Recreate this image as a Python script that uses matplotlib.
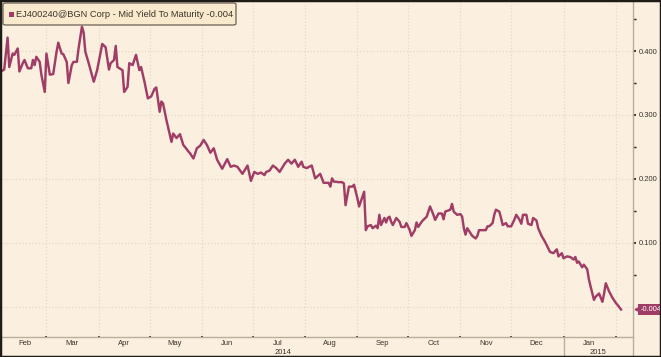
import pandas as pd
import numpy as np
import matplotlib.pyplot as plt
import matplotlib.dates as mdates
import matplotlib.transforms as mtransforms
from matplotlib.patches import FancyBboxPatch, Rectangle
from matplotlib.ticker import FixedLocator, NullFormatter
from matplotlib import font_manager

# condensed-ish font if there is one
names = {f.name for f in font_manager.fontManager.ttflist}
narrow = 'Liberation Sans Narrow' if 'Liberation Sans Narrow' in names else 'Liberation Sans'
plt.rcParams['font.family'] = [narrow, 'DejaVu Sans']

# ============================================================
# data: days after 2014-02-01, mid yield to maturity
# ============================================================
series_name = 'EJ400240@BGN Corp - Mid Yield To Maturity -0.004'
start_date = '2014-02-01'
day_offset = [
    1, 3, 5, 6, 8, 9, 11, 12, 14, 15, 17, 19, 20, 21, 22, 24, 25, 27, 28, 30,
    32, 34, 35, 37, 38, 40, 41, 43, 44, 46, 47, 49, 50, 51, 53, 56, 58, 61, 63, 65,
    66, 68, 69, 70, 73, 74, 76, 77, 79, 81, 83, 84, 86, 88, 90, 92, 93, 95, 96, 97,
    99, 102, 103, 105, 107, 109, 110, 112, 113, 115, 117, 119, 121, 123, 125, 127, 129, 132, 135, 137,
    139, 141, 144, 147, 149, 151, 153, 155, 157, 158, 160, 162, 164, 166, 169, 171, 173, 175, 177, 179,
    180, 182, 185, 187, 190, 192, 195, 196, 197, 198, 201, 203, 204, 205, 207, 209, 210, 212, 213, 215,
    216, 217, 218, 220, 221, 223, 224, 225, 226, 228, 229, 230, 231, 232, 233, 235, 237, 238, 240, 241,
    243, 244, 246, 247, 248, 250, 251, 253, 255, 257, 258, 260, 262, 263, 264, 265, 267, 268, 269, 271,
    273, 274, 275, 276, 277, 279, 280, 282, 283, 284, 286, 288, 289, 290, 292, 293, 294, 296, 297, 298,
    300, 301, 303, 305, 306, 308, 309, 310, 312, 313, 315, 316, 318, 319, 321, 323, 326, 328, 330, 331,
    333, 334, 336, 338, 340, 341, 342, 343, 345, 346, 348, 349, 350, 352, 353, 355, 357, 358, 359, 361,
    363, 365, 366, 368,
]
yield_vals = [
    0.368, 0.371, 0.421, 0.375, 0.396, 0.394, 0.404, 0.368, 0.381, 0.386, 0.373, 0.373, 0.386, 0.378, 0.391, 0.383, 0.363, 0.336, 0.396, 0.363,
    0.364, 0.399, 0.413, 0.396, 0.395, 0.383, 0.350, 0.378, 0.383, 0.383, 0.404, 0.438, 0.429, 0.399, 0.381, 0.352, 0.370, 0.411, 0.406, 0.371,
    0.381, 0.386, 0.408, 0.375, 0.370, 0.336, 0.344, 0.381, 0.378, 0.394, 0.370, 0.375, 0.352, 0.326, 0.329, 0.341, 0.343, 0.305, 0.321, 0.318,
    0.292, 0.258, 0.271, 0.264, 0.270, 0.253, 0.250, 0.243, 0.240, 0.232, 0.248, 0.252, 0.261, 0.253, 0.241, 0.248, 0.230, 0.216, 0.231, 0.219,
    0.221, 0.219, 0.208, 0.221, 0.197, 0.211, 0.208, 0.210, 0.206, 0.211, 0.213, 0.221, 0.217, 0.211, 0.224, 0.230, 0.224, 0.230, 0.219, 0.227,
    0.219, 0.217, 0.221, 0.201, 0.208, 0.194, 0.194, 0.188, 0.201, 0.196, 0.195, 0.195, 0.193, 0.159, 0.188, 0.188, 0.191, 0.170, 0.157, 0.172,
    0.180, 0.120, 0.126, 0.128, 0.123, 0.127, 0.123, 0.144, 0.128, 0.139, 0.132, 0.139, 0.141, 0.133, 0.128, 0.139, 0.133, 0.125, 0.125, 0.131,
    0.120, 0.111, 0.120, 0.132, 0.125, 0.133, 0.136, 0.141, 0.157, 0.144, 0.136, 0.146, 0.146, 0.137, 0.149, 0.150, 0.152, 0.161, 0.149, 0.144,
    0.145, 0.141, 0.123, 0.113, 0.123, 0.115, 0.111, 0.107, 0.111, 0.120, 0.120, 0.120, 0.126, 0.126, 0.131, 0.144, 0.152, 0.149, 0.139, 0.128,
    0.131, 0.126, 0.126, 0.137, 0.144, 0.136, 0.130, 0.144, 0.144, 0.130, 0.128, 0.139, 0.135, 0.123, 0.111, 0.102, 0.086, 0.084, 0.090, 0.079,
    0.084, 0.076, 0.079, 0.078, 0.074, 0.078, 0.069, 0.071, 0.062, 0.066, 0.059, 0.043, 0.032, 0.011, 0.016, 0.021, 0.008, 0.021, 0.037, 0.024,
    0.014, 0.006, 0.003, -0.004,
]
ytick_vals = [0.1, 0.2, 0.3, 0.4]
ytick_labels = ['0.100', '0.200', '0.300', '0.400']
ytick_minor = [0.05, 0.15, 0.25, 0.35, 0.45]
last_label = '-0.004'
year_labels = [('2014', '2014-01-01', '2015-01-01'), ('2015', '2015-01-01', '2016-01-01')]

bg = '#FBEFDF'
line_c = '#A03D66'
axis_c = '#B9AE9C'
grid_c = '#E6D9C5'
txt_c = '#3A342C'

start = pd.Timestamp(start_date)
dates = start + pd.to_timedelta(day_offset, unit='D')

fig = plt.figure(figsize=(6.61, 3.57), dpi=100)
fig.set_facecolor(bg)
ax = fig.add_axes([2 / 661, 20 / 357, 631 / 661, 335 / 357])
ax.set_facecolor(bg)

ax.plot(dates, yield_vals, color=line_c, lw=1.75, solid_joinstyle='round', zorder=3)

x0 = mdates.date2num(start) + 1.7
x1 = mdates.date2num(start) + 375.1
ax.set_xlim(x0, x1)
ax.set_ylim(-0.047, 0.4766)

# spines
for s in ['top', 'left']:
    ax.spines[s].set_visible(False)
for s in ['right', 'bottom']:
    ax.spines[s].set_color(axis_c)
    ax.spines[s].set_linewidth(1.0)

# y axis on the right
ax.yaxis.tick_right()
ax.set_yticks(ytick_vals)
ax.set_yticklabels(ytick_labels)
ax.yaxis.set_minor_locator(FixedLocator(ytick_minor))
ax.tick_params(axis='y', which='major', length=2.5, width=1.3, color='#2A2520', pad=1.5,
               labelsize=5.5, labelcolor=txt_c)
ax.tick_params(axis='y', which='minor', length=2, width=1.0, color='#2A2520')

# x axis: month starts as ticks, names in the middle of the month
ax.xaxis.set_major_locator(mdates.MonthLocator())
ax.xaxis.set_major_formatter(NullFormatter())
ax.xaxis.set_minor_locator(mdates.MonthLocator(bymonthday=16))
ax.xaxis.set_minor_formatter(mdates.DateFormatter('%b'))
ax.tick_params(axis='x', which='major', length=2, width=1.2, color='#2A2520', direction='inout')
ax.tick_params(axis='x', which='minor', length=0, pad=2.5, labelsize=5.5, labelcolor=txt_c)

# grid
ax.grid(True, which='major', color=grid_c, linestyle=':', linewidth=0.9, zorder=0)
ax.axhline(0, color=grid_c, linestyle=':', linewidth=0.9, zorder=0)

# year labels + separator under the axis
xt = ax.get_xaxis_transform()
for lab, a, b in year_labels:
    lo = max(mdates.date2num(pd.Timestamp(a)), x0)
    hi = min(mdates.date2num(pd.Timestamp(b)), x1)
    ax.text((lo + hi) / 2, -0.045, lab, transform=xt, ha='center', va='center',
            fontsize=5.5, color=txt_c)
    if mdates.date2num(pd.Timestamp(a)) > x0:
        ax.plot([lo, lo], [0, -0.06], transform=xt, color=axis_c, lw=1.0, clip_on=False)
ax.plot([1, 1], [0, -0.06], transform=ax.transAxes, color=axis_c, lw=1.0, clip_on=False)

# last value tag
yt = mtransforms.blended_transform_factory(ax.transAxes, ax.transData)
ax.plot([1.006], [yield_vals[-1]], marker='<', ms=3.5, color=line_c, transform=yt, clip_on=False)
ax.text(1.012, yield_vals[-1], last_label, transform=yt, ha='left', va='center',
        fontsize=5.3, color='white',
        bbox=dict(boxstyle='square,pad=0.3', facecolor=line_c, edgecolor='none'))

# series label box top left
box = FancyBboxPatch((3 / 661, 1 - 25 / 357), 233 / 661, 22 / 357,
                     boxstyle='round,pad=0,rounding_size=0.004', transform=fig.transFigure,
                     facecolor='#FAEACD', edgecolor='#6B6255', linewidth=0.9, zorder=5)
fig.patches.append(box)
fig.patches.append(Rectangle((9 / 661, 1 - 17 / 357), 5 / 661, 5 / 357, transform=fig.transFigure,
                             facecolor=line_c, edgecolor='none', zorder=6))
fig.text(16 / 661, 1 - 14.5 / 357, series_name, ha='left', va='center', fontsize=6.7,
         color=txt_c, zorder=7)

# outer frame
fig.patches.append(Rectangle((0, 0), 1, 1, transform=fig.transFigure, fill=False,
                             edgecolor='#1E1B18', linewidth=2.5, zorder=10))

fig.savefig('out.png', dpi=100, facecolor=bg)
